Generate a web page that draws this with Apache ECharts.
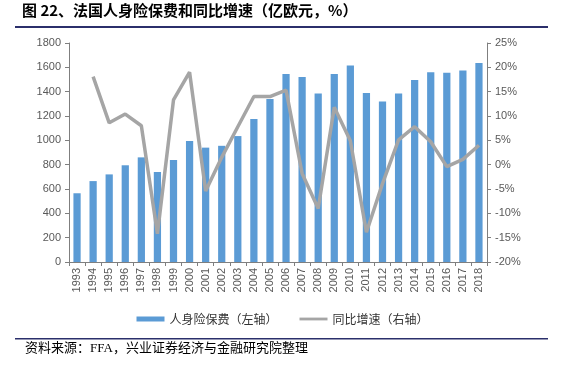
<!DOCTYPE html>
<html><head><meta charset="utf-8">
<script src="https://cdn.jsdelivr.net/npm/echarts@6/dist/echarts.min.js"></script>
<style>html,body{margin:0;padding:0;background:#fff}#c{width:565px;height:370px}</style>
</head><body><div id="c"></div>
<script>
const years = ['1993','1994','1995','1996','1997','1998','1999','2000','2001','2002','2003','2004','2005','2006','2007','2008','2009','2010','2011','2012','2013','2014','2015','2016','2017','2018'];
const premium = [565,665,720,795,860,740,838,995,940,955,1035,1175,1340,1545,1520,1385,1545,1615,1390,1320,1385,1495,1560,1555,1575,1635];
const growth = [null,18.1,8.6,10.4,8.0,-14.2,13.3,19.0,-5.4,1.5,7.8,14.0,14.0,15.3,-1.8,-9.0,11.8,4.9,-13.9,-3.9,5.1,7.8,4.7,-0.4,1.1,4.0];
const leftTicks = {min:0,max:1800,interval:200};
const rightTicks = {min:-20,max:25,interval:5};

const chart = echarts.init(document.getElementById('c'));
const labelColor = '#595959';
const cjk = '"Noto Sans CJK SC", sans-serif';
const latin = 'Arial, "Liberation Sans", sans-serif';
chart.setOption({
  animation:false,
  grid:{left:69,right:78,top:43,bottom:108},
  graphic:[
    {type:'text',left:22,top:3,style:{text:'图 22、法国人身险保费和同比增速（亿欧元，%）',font:'bold 15px '+cjk,fill:'#000'}},
    {type:'rect',shape:{x:15,y:26,width:533,height:2},style:{fill:'#2b2f6b'}},
    {type:'rect',shape:{x:15,y:338,width:533,height:1.5},style:{fill:'#2b2f6b'}},
    {type:'text',left:25,top:342,style:{text:'资料来源：FFA，兴业证券经济与金融研究院整理',font:'13px "Liberation Serif", "Noto Sans CJK SC", serif',fill:'#000'}}
  ],
  legend:{
    top:308,left:'center',itemGap:22,itemWidth:28,itemHeight:5,
    textStyle:{fontSize:12,color:'#333',fontFamily:cjk},
    data:[{name:'人身险保费（左轴）',icon:'rect'},{name:'同比增速（右轴）',icon:'path://M0,0H10V1H0Z'}]
  },
  xAxis:{
    type:'category',data:years,
    axisLine:{lineStyle:{color:'#7f7f7f'}},
    axisTick:{show:true,alignWithLabel:false,length:4,lineStyle:{color:'#7f7f7f'}},
    axisLabel:{rotate:90,fontSize:11,color:labelColor,interval:0,margin:6,fontFamily:latin}
  },
  yAxis:[
    {type:'value',min:leftTicks.min,max:leftTicks.max,interval:leftTicks.interval,
     splitLine:{show:false},
     axisLine:{show:true,lineStyle:{color:'#7f7f7f'}},
     axisTick:{show:true,length:4,lineStyle:{color:'#7f7f7f'}},
     axisLabel:{fontSize:11,color:labelColor,margin:8,fontFamily:latin,formatter:function(v){return String(v);}}},
    {type:'value',min:rightTicks.min,max:rightTicks.max,interval:rightTicks.interval,
     splitLine:{show:false},
     axisLine:{show:true,lineStyle:{color:'#7f7f7f'}},
     axisTick:{show:true,length:4,lineStyle:{color:'#7f7f7f'}},
     axisLabel:{fontSize:11,color:labelColor,margin:8,formatter:'{value}%',fontFamily:latin}}
  ],
  series:[
    {name:'人身险保费（左轴）',type:'bar',data:premium,barWidth:'45%',itemStyle:{color:'#5B9BD5'}},
    {name:'同比增速（右轴）',type:'line',yAxisIndex:1,data:growth,symbol:'none',
     lineStyle:{color:'#A5A5A5',width:3.5},itemStyle:{color:'#A5A5A5'}}
  ]
});
</script></body></html>
